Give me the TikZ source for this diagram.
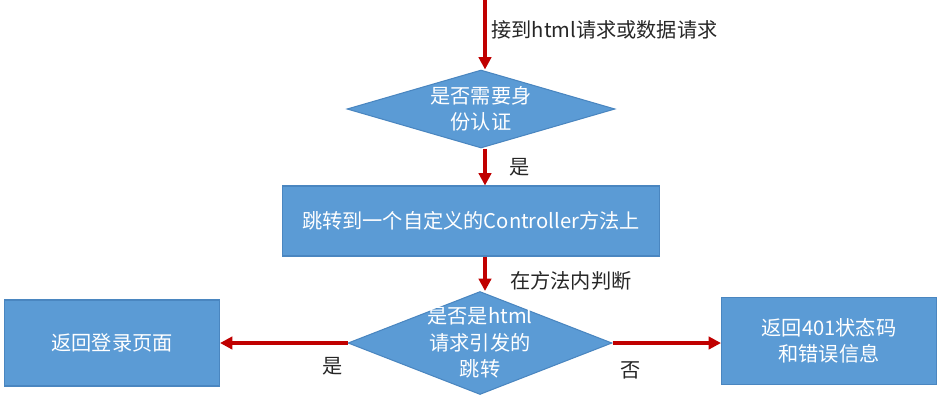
\documentclass[tikz,border=0pt]{standalone}
\usepackage{fontspec}
\setmainfont{Noto Sans CJK SC}
\usepackage{xcolor}
\usetikzlibrary{arrows.meta,positioning,shapes.geometric}
\definecolor{boxblue} {HTML}{5B9BD5}
\definecolor{boxedge} {HTML}{4A86C0}
\definecolor{flowred} {HTML}{C00000}
\definecolor{labelgray}{HTML}{262626}

\tikzset{
  stepbox/.style={rectangle, fill=boxblue, draw=boxedge, line width=0.6pt,
                  text=white, font=\fontsize{11.5}{15}\selectfont, align=center},
  choice/.style={diamond, aspect=2.56, inner sep=-4pt, fill=boxblue, draw=boxedge,
                 line width=0.6pt, text=white, font=\fontsize{11.5}{15}\selectfont, align=center},
  flow/.style={flowred, line width=2pt, -{Triangle[length=7pt,width=7pt]}},
  flowlabel/.style={text=labelgray, font=\fontsize{11.5}{14}\selectfont, inner sep=0pt}
}

\begin{document}
\begin{tikzpicture}[x=0.02cm,y=-0.02cm]
  \useasboundingbox (0,0) rectangle (946,400);
  % shapes
  \node[choice, minimum width=5.36cm, minimum height=1.56cm] (auth) at (481,109)
    {是否需要身\\份认证};
  \node[stepbox, minimum width=7.56cm, minimum height=1.4cm] (jump) at (471,221)
    {跳转到一个自定义的Controller方法上};
  \node[choice, minimum width=5.28cm, minimum height=2.06cm] (ishtml) at (480,343)
    {是否是html\\请求引发的\\跳转};
  \node[stepbox, minimum width=4.3cm, minimum height=1.72cm] (login) at (112,343)
    {返回登录页面};
  \node[stepbox, minimum width=4.3cm, minimum height=1.74cm] (err) at (829,341)
    {返回401状态码\\和错误信息};
  \coordinate (entry) at (485,0);
  % connectors
  \draw[flow] (entry) -- (entry |- auth.north);
  \draw[flow] (entry |- auth.south) -- (entry |- jump.north);
  \draw[flow] (entry |- jump.south) -- (entry |- ishtml.north);
  \draw[flow] (ishtml.west) -- (login.east);
  \draw[flow] (ishtml.east) -- (ishtml.east -| err.west);
  % labels
  \node[flowlabel, anchor=west] (recv) at (491,30) {接到html请求或数据请求};
  \node[flowlabel] (yesauth) at (520,167) {是};
  \node[flowlabel, anchor=west] (judge) at (510,281) {在方法内判断};
  \node[flowlabel] (yeshtml) at (333,366) {是};
  \node[flowlabel] (nohtml) at (631,370) {否};
\end{tikzpicture}
\end{document}
